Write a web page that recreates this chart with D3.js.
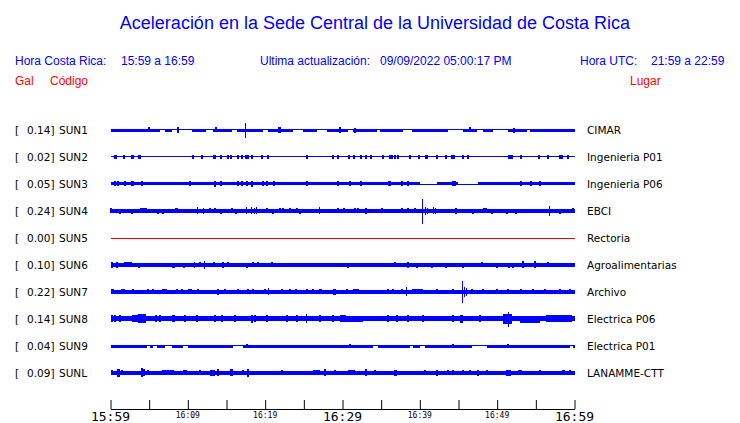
<!DOCTYPE html>
<html><head><meta charset="utf-8">
<script src="https://cdn.jsdelivr.net/npm/d3@7"></script>
<style>body{margin:0;background:#fff}svg{display:block}</style>
</head><body>
<svg id="c" width="740" height="423"></svg>
<script>
// ---------- data ----------
const codes  = ["SUN1","SUN2","SUN3","SUN4","SUN5","SUN6","SUN7","SUN8","SUN9","SUNL"];
const peaks  = [0.14,0.02,0.05,0.24,0.00,0.10,0.22,0.14,0.04,0.09];
const places = ["CIMAR","Ingenieria P01","Ingenieria P06","EBCI","Rectoria","Agroalimentarias","Archivo","Electrica P06","Electrica P01","LANAMME-CTT"];
const baseAmp = [0.012,0.01,0.033,0.035,0,0.035,0.035,0.05,0.025,0.035];
const tickMinutes = [0,5,10,15,20,25,30,35,40,45,50,55,60];
const tickLabels = [[0,"15:59",true],[10,"16:09",false],[20,"16:19",false],[30,"16:29",true],[40,"16:39",false],[50,"16:49",false],[60,"16:59",true]];

// segments [startMin, endMin, amplitudeGal]
const segsSUN1 = [[0,6.4,0.027],[7.0,8.0,0.027],[10.5,12.3,0.027],[13.3,15.7,0.027],[16.4,19.7,0.027],[20.4,23.6,0.027],[24.9,26.7,0.027],[28.0,30.7,0.027],[31.4,34.5,0.027],[34.8,37.8,0.027],[39.0,43.6,0.027],[45.6,47.4,0.027],[48.2,49.5,0.027],[51.4,53.9,0.027],[54.2,60,0.027]];
const segsSUN3 = [[40.0,42.2,0.005],[44.9,47.5,0.005]];
const segsSUN9 = [[4.7,5.1,0.01],[5.5,6.0,0.01],[7.0,8.0,0.01],[9.4,10.0,0.01],[15.8,17.1,0.01],[33.9,34.6,0.01],[38.7,39.1,0.01],[40.0,40.7,0.01],[46.7,48.7,0.01],[59.4,59.8,0.01]];

// bursts [minute, amplitudeGal, durationMin]
const burstsSUN1 = [[17.4,0.14,0.12],[8.7,0.06,0.3],[21.9,0.06,0.4],[13.7,0.05,0.3],[29.7,0.055,0.3],[31.6,0.045,0.2],[46.5,0.05,0.2],[52.2,0.045,0.3],[5.0,0.05,0.3]];
const burstsSUN2 = [[0.6,0.035,0.4],[1.7,0.035,0.2],[2.9,0.035,0.4],[3.8,0.035,0.4],[10.7,0.035,0.2],[11.8,0.035,0.2],[13.4,0.035,0.4],[14.2,0.035,0.2],[15.1,0.035,0.2],[15.5,0.035,0.2],[16.4,0.035,0.2],[17.0,0.035,0.2],[17.6,0.035,0.5],[18.3,0.035,0.2],[19.6,0.035,0.2],[20.4,0.035,0.2],[25.4,0.035,0.2],[28.8,0.035,0.2],[29.4,0.035,0.2],[30.8,0.035,0.2],[31.4,0.035,0.2],[32.4,0.035,0.2],[33.0,0.035,0.2],[33.6,0.035,0.2],[35.2,0.035,0.2],[36.3,0.035,0.5],[36.8,0.035,0.2],[37.2,0.035,0.2],[38.7,0.035,0.2],[39.8,0.035,0.2],[40.9,0.035,0.4],[42.2,0.035,0.2],[43.3,0.035,0.2],[44.3,0.035,0.5],[45.6,0.035,0.2],[46.2,0.035,0.2],[51.7,0.035,0.6],[53.0,0.035,0.2],[55.4,0.035,0.2],[56.6,0.035,0.2],[58.1,0.035,0.2],[58.4,0.035,0.2],[59.1,0.035,0.2]];
const burstsSUN3 = [[0.6,0.05,0.2],[1.0,0.05,0.2],[1.9,0.05,0.2],[2.9,0.05,0.4],[4.1,0.05,0.2],[10.2,0.05,0.2],[13.5,0.06,0.2],[14.2,0.05,0.2],[16.5,0.05,0.2],[17.0,0.05,0.2],[17.6,0.05,0.2],[18.3,0.055,0.3],[19.7,0.05,0.2],[20.2,0.05,0.2],[21.1,0.05,0.2],[25.4,0.05,0.2],[29.4,0.05,0.2],[31.0,0.05,0.2],[32.3,0.05,0.2],[36.1,0.05,0.4],[37.7,0.05,0.2],[38.5,0.05,0.2],[44.4,0.05,0.5],[53.0,0.05,0.2],[54.3,0.05,0.2],[55.5,0.05,0.2]];
const burstsSUN4 = [[0.0,0.05,0.2],[1.2,0.045,0.2],[2.8,0.045,0.2],[4.2,0.05,0.9],[6.1,0.045,0.2],[6.8,0.045,0.2],[8.6,0.05,0.4],[11.2,0.07,0.15],[12.0,0.06,0.15],[12.9,0.05,0.2],[13.5,0.05,0.2],[14.2,0.045,0.2],[15.7,0.05,0.2],[16.2,0.045,0.2],[17.6,0.07,0.15],[18.2,0.07,0.15],[18.6,0.06,0.15],[18.9,0.07,0.15],[20.2,0.05,0.2],[21.0,0.045,0.2],[21.9,0.05,0.2],[22.3,0.05,0.2],[23.2,0.05,0.2],[24.1,0.05,0.2],[24.5,0.045,0.2],[27.1,0.07,0.15],[29.4,0.05,0.2],[30.1,0.05,0.2],[31.6,0.05,0.2],[32.0,0.05,0.2],[33.0,0.06,0.2],[35.1,0.05,0.2],[37.7,0.05,0.2],[38.5,0.05,0.2],[39.4,0.05,0.2],[40.3,0.24,0.12],[40.7,0.08,0.15],[41.0,0.06,0.15],[41.8,0.07,0.15],[42.1,0.06,0.15],[44.7,0.06,0.2],[46.9,0.045,0.2],[48.4,0.05,0.5],[49.3,0.045,0.2],[51.3,0.045,0.2],[52.4,0.045,0.2],[56.8,0.1,0.15],[58.1,0.045,0.2],[59.8,0.05,0.2]];
const burstsSUN5 = [];
const burstsSUN6 = [[0.2,0.06,0.2],[0.8,0.06,0.2],[2.2,0.05,1.0],[3.6,0.045,0.2],[8.0,0.045,0.2],[8.2,0.045,0.2],[9.5,0.045,0.2],[10.9,0.06,0.15],[11.6,0.05,0.2],[12.2,0.08,0.12],[13.3,0.05,0.2],[14.5,0.06,0.2],[15.1,0.05,0.2],[17.6,0.045,0.2],[18.4,0.05,0.2],[19.1,0.05,0.2],[20.9,0.05,0.2],[30.7,0.045,0.2],[36.8,0.05,0.2],[38.5,0.06,0.2],[39.6,0.045,0.2],[41.6,0.045,0.2],[43.4,0.045,0.2],[45.6,0.045,0.2],[48.0,0.05,0.3],[50.0,0.045,0.2],[51.5,0.045,0.2],[52.0,0.045,0.2],[53.3,0.07,0.2],[54.9,0.07,0.2],[56.6,0.05,0.2]];
const burstsSUN7 = [[0.3,0.05,0.4],[1.6,0.05,0.5],[2.9,0.05,0.2],[4.8,0.05,0.2],[5.5,0.05,0.2],[7.0,0.05,0.6],[8.6,0.05,0.2],[9.2,0.05,0.2],[10.3,0.05,0.5],[11.3,0.05,0.2],[13.9,0.055,0.2],[14.8,0.05,0.2],[16.4,0.05,0.2],[17.8,0.05,0.2],[18.4,0.05,0.2],[20.0,0.05,0.2],[20.5,0.07,0.15],[22.2,0.05,0.2],[23.2,0.05,0.2],[23.9,0.05,0.2],[25.4,0.05,0.2],[26.2,0.05,0.2],[27.2,0.05,0.4],[29.0,0.06,0.4],[30.6,0.05,0.2],[31.7,0.05,0.8],[35.9,0.05,0.2],[36.5,0.05,0.2],[37.7,0.05,0.2],[38.3,0.09,0.15],[39.7,0.05,1.4],[42.2,0.05,0.2],[44.3,0.05,0.2],[45.5,0.21,0.12],[45.8,0.1,0.15],[46.1,0.08,0.15],[46.7,0.05,0.2],[48.2,0.05,0.2],[50.0,0.05,0.2],[51.4,0.05,0.2],[53.0,0.05,0.2],[54.6,0.05,0.2],[56.2,0.05,0.2],[58.1,0.05,0.2],[59.4,0.05,0.2]];
const burstsSUN8 = [[0.2,0.07,0.2],[0.6,0.07,0.2],[1.2,0.07,0.2],[3.4,0.07,1.2],[4.0,0.09,1.0],[5.8,0.07,0.2],[6.4,0.07,0.2],[8.1,0.07,0.4],[9.6,0.07,0.2],[11.2,0.07,0.2],[13.5,0.07,0.2],[14.4,0.07,0.2],[16.1,0.07,0.2],[18.3,0.08,0.2],[18.7,0.07,0.2],[20.2,0.07,0.2],[22.8,0.07,0.2],[24.1,0.07,0.2],[25.4,0.09,0.15],[27.1,0.07,0.2],[28.8,0.07,0.2],[30.1,0.07,0.8],[31.2,0.06,3.0],[35.8,0.07,0.2],[37.0,0.07,0.2],[38.5,0.07,0.2],[40.4,0.07,0.2],[44.3,0.07,0.2],[45.4,0.08,0.4],[47.8,0.07,0.2],[51.4,0.1,1.2],[51.4,0.14,0.12],[54.2,0.065,2.6],[58.0,0.07,3.3]];
const burstsSUN9 = [[17.6,0.04,0.2],[31.0,0.04,0.2],[44.3,0.04,0.2],[51.4,0.04,0.2]];
const burstsSUNL = [[0.2,0.05,0.2],[1.0,0.08,0.4],[1.5,0.05,0.2],[4.1,0.09,0.2],[4.3,0.07,0.2],[4.8,0.05,0.2],[7.3,0.05,1.3],[8.0,0.05,0.2],[9.6,0.05,0.5],[11.6,0.05,0.2],[13.2,0.06,0.6],[13.9,0.07,0.2],[15.6,0.07,0.4],[17.1,0.05,0.2],[17.8,0.08,0.3],[22.2,0.05,0.2],[26.6,0.05,0.9],[27.7,0.07,0.2],[29.0,0.05,0.2],[31.1,0.05,0.9],[33.0,0.07,0.2],[34.2,0.05,0.2],[36.9,0.06,0.4],[40.7,0.05,0.2],[42.2,0.06,0.2],[43.6,0.05,0.2],[44.3,0.05,0.2],[45.5,0.05,0.2],[46.5,0.05,0.2],[47.5,0.06,0.2],[48.7,0.05,0.2],[51.4,0.06,0.6],[53.0,0.05,0.5],[55.5,0.05,0.2],[58.6,0.05,0.4],[59.4,0.05,0.2]];

const segs   = [segsSUN1,[],segsSUN3,[],[],[],[],[],segsSUN9,[]];
const bursts = [burstsSUN1,burstsSUN2,burstsSUN3,burstsSUN4,burstsSUN5,burstsSUN6,burstsSUN7,burstsSUN8,burstsSUN9,burstsSUNL];

// ---------- drawing ----------
const svg = d3.select("#c");
const BLUE = "#0000ff", RED = "#ff0000";
const x = d3.scaleLinear().domain([0,60]).range([110.5,574.5]);
const row = d3.scaleLinear().domain([0,9]).range([130,373]);
const amp = d3.scaleLinear().domain([0,0.24]).range([0,12.5]);
const halfPx = a => Math.max(0.5, amp(a));

svg.append("text").attr("x",375).attr("y",29).attr("text-anchor","middle")
  .attr("font-family","Liberation Sans, Arial, sans-serif").attr("font-size",18).attr("fill",BLUE)
  .text("Aceleración en la Sede Central de la Universidad de Costa Rica");

const hdr = [[15,"Hora Costa Rica:",BLUE,65],[121,"15:59 a 16:59",BLUE,65],[260,"Ultima actualización:",BLUE,65],[380,"09/09/2022 05:00:17 PM",BLUE,65],[580,"Hora UTC:",BLUE,65],[651,"21:59 a 22:59",BLUE,65],[15,"Gal",RED,85],[50,"Código",RED,85],[630,"Lugar",RED,85]];
svg.selectAll("text.hdr").data(hdr).join("text").attr("class","hdr")
  .attr("x",d=>d[0]).attr("y",d=>d[3]).attr("fill",d=>d[2])
  .attr("font-family","Liberation Sans, Arial, sans-serif").attr("font-size",12)
  .text(d=>d[1]);

const lf = "DejaVu Sans, sans-serif";
codes.forEach((c,i)=>{
  const cy = Math.round(row(i));
  svg.append("text").attr("x",15).attr("y",cy+4).attr("font-family",lf).attr("font-size",10.5).text("[");
  svg.append("text").attr("x",54.5).attr("y",cy+4).attr("text-anchor","end").attr("font-family",lf).attr("font-size",10.5).text(peaks[i].toFixed(2)+"]");
  svg.append("text").attr("x",59).attr("y",cy+4).attr("font-family",lf).attr("font-size",10.5).text(c);
  svg.append("text").attr("x",587).attr("y",cy+4).attr("font-family",lf).attr("font-size",10.5).text(places[i]);

  const g = svg.append("g").attr("shape-rendering","crispEdges");
  const col = codes[i]==="SUN5" ? RED : BLUE;
  const bounds = [0,60];
  segs[i].forEach(s=>{bounds.push(s[0],s[1]);});
  const bs = Array.from(new Set(bounds)).sort((a,b)=>a-b);
  const pieces = [];
  for(let k=0;k<bs.length-1;k++){
    const mid=(bs[k]+bs[k+1])/2;
    const s = segs[i].find(s=>mid>=s[0]&&mid<=s[1]);
    pieces.push([bs[k],bs[k+1], s? s[2] : baseAmp[i]]);
  }
  g.selectAll("rect.p").data(pieces).join("rect").attr("class","p")
    .attr("x",d=>Math.round(x(d[0]))).attr("width",d=>Math.max(1,Math.round(x(d[1]))-Math.round(x(d[0]))))
    .attr("y",d=>Math.round(cy-halfPx(d[2]))).attr("height",d=>Math.max(1,Math.round(2*halfPx(d[2]))))
    .attr("fill",col);
  g.selectAll("rect.b").data(bursts[i]).join("rect").attr("class","b")
    .attr("x",d=>Math.round(x(d[0]-d[2]/2))).attr("width",d=>Math.max(1,Math.round(x(d[2])-x(0))))
    .attr("y",d=>Math.round(cy-halfPx(d[1]))).attr("height",d=>Math.max(1,Math.round(2*halfPx(d[1]))))
    .attr("fill",col);
});

// time axis
const ax = svg.append("g").attr("transform","translate(0,409)")
  .call(d3.axisTop(x).tickValues(tickMinutes).tickSize(9).tickSizeOuter(0).tickFormat(""));
ax.select(".domain").attr("stroke","#000");
ax.selectAll(".tick line").attr("stroke","#000");
svg.selectAll("text.tl").data(tickLabels).join("text").attr("class","tl")
  .attr("x",d=>x(d[0])).attr("y",d=>d[2]?421:418).attr("text-anchor","middle")
  .attr("font-family","DejaVu Sans Mono, monospace").attr("font-size",d=>d[2]?13:8)
  .text(d=>d[1]);
</script>
</body></html>
